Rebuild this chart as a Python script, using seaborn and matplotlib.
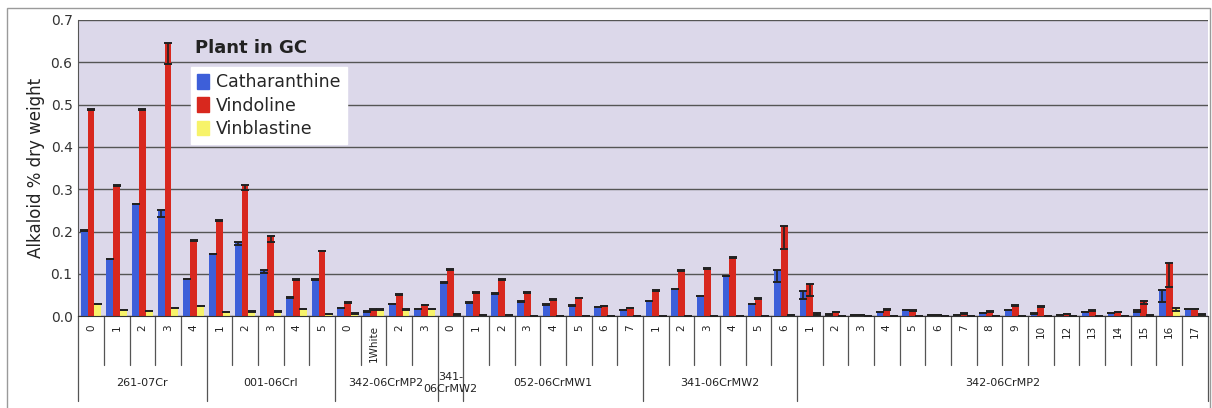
import numpy as np
import pandas as pd
import seaborn as sns
import matplotlib.pyplot as plt
from matplotlib.patches import Rectangle
import matplotlib.transforms as mtransforms

# sample groups and the plant numbers inside each group
groups = ["261-07Cr", "001-06CrI", "342-06CrMP2", "341-\n06CrMW2",
          "052-06CrMW1", "341-06CrMW2", "342-06CrMP2"]
group_labels = [
    ["0", "1", "2", "3", "4"],
    ["1", "2", "3", "4", "5"],
    ["0", "1White", "2", "3"],
    ["0"],
    ["1", "2", "3", "4", "5", "6", "7"],
    ["1", "2", "3", "4", "5", "6"],
    ["1", "2", "3", "4", "5", "6", "7", "8", "9", "10", "12", "13", "14", "15", "16", "17"],
]

catharanthine = [0.203, 0.135, 0.265, 0.250, 0.088,
                 0.148, 0.175, 0.110, 0.045, 0.088,
                 0.020, 0.012, 0.030, 0.018,
                 0.080,
                 0.033, 0.054, 0.035, 0.028, 0.026, 0.022, 0.015,
                 0.036, 0.065, 0.048, 0.096, 0.030, 0.110,
                 0.059, 0.005, 0.002, 0.010, 0.015, 0.002, 0.004, 0.008,
                 0.015, 0.007, 0.004, 0.010, 0.008, 0.014, 0.063, 0.018]
vindoline = [0.490, 0.310, 0.490, 0.645, 0.180,
             0.228, 0.310, 0.190, 0.088, 0.155,
             0.033, 0.016, 0.052, 0.027,
             0.112,
             0.057, 0.088, 0.058, 0.040, 0.044, 0.024, 0.020,
             0.062, 0.110, 0.115, 0.140, 0.043, 0.213,
             0.076, 0.010, 0.003, 0.016, 0.014, 0.003, 0.007, 0.013,
             0.027, 0.024, 0.006, 0.015, 0.011, 0.035, 0.126, 0.018]
vinblastine = [0.030, 0.015, 0.013, 0.020, 0.025,
               0.010, 0.012, 0.012, 0.018, 0.006,
               0.008, 0.016, 0.016, 0.017,
               0.005,
               0.002, 0.002, 0.001, 0.001, 0.001, 0.001, 0.001,
               0.001, 0.001, 0.001, 0.001, 0.001, 0.003,
               0.008, 0.001, 0.000, 0.001, 0.001, 0.000, 0.001, 0.001,
               0.001, 0.001, 0.001, 0.001, 0.001, 0.002, 0.020, 0.006]

# standard errors, drawn downwards from the top of each bar
cath_err = [0.001, 0.001, 0.001, 0.015, 0.001,
            0.001, 0.006, 0.008, 0.002, 0.002,
            0.001, 0.001, 0.001, 0.001,
            0.002,
            0.002, 0.001, 0.001, 0.001, 0.001, 0.001, 0.001,
            0.001, 0.001, 0.001, 0.001, 0.001, 0.029,
            0.019, 0.001, 0.000, 0.001, 0.001, 0.000, 0.001, 0.001,
            0.001, 0.001, 0.000, 0.001, 0.001, 0.003, 0.030, 0.001]
vind_err = [0.002, 0.002, 0.002, 0.050, 0.002,
            0.003, 0.012, 0.015, 0.003, 0.002,
            0.002, 0.001, 0.002, 0.001,
            0.002,
            0.003, 0.002, 0.002, 0.002, 0.002, 0.001, 0.001,
            0.002, 0.003, 0.003, 0.002, 0.002, 0.055,
            0.029, 0.001, 0.000, 0.001, 0.001, 0.000, 0.001, 0.002,
            0.002, 0.002, 0.001, 0.002, 0.001, 0.006, 0.057, 0.001]
vinb_err = [0.001, 0.001, 0.001, 0.001, 0.001,
            0.001, 0.001, 0.001, 0.001, 0.001,
            0.002, 0.001, 0.001, 0.001,
            0.001,
            0.000, 0.000, 0.000, 0.000, 0.000, 0.000, 0.000,
            0.000, 0.000, 0.000, 0.000, 0.000, 0.001,
            0.004, 0.000, 0.000, 0.000, 0.000, 0.000, 0.000, 0.000,
            0.000, 0.000, 0.000, 0.000, 0.000, 0.001, 0.008, 0.002]

series = ["Catharanthine", "Vindoline", "Vinblastine"]
colors = ["#3d5fd9", "#d8281e", "#f7f36a"]

tick_labels = [lab for g in group_labels for lab in g]
n = len(tick_labels)
keys = [f"c{i}" for i in range(n)]

df = pd.concat([
    pd.DataFrame({"key": keys, "value": catharanthine, "err": cath_err, "alkaloid": series[0]}),
    pd.DataFrame({"key": keys, "value": vindoline, "err": vind_err, "alkaloid": series[1]}),
    pd.DataFrame({"key": keys, "value": vinblastine, "err": vinb_err, "alkaloid": series[2]}),
])

sns.set_style("white")
plt.rcParams["font.family"] = ["DejaVu Sans"]

fig = plt.figure(figsize=(12.12, 4.08), dpi=100)
ax = fig.add_axes([0.0645, 0.225, 0.932, 0.726])
ax.set_facecolor("#dcd8ea")

sns.barplot(data=df, x="key", y="value", hue="alkaloid", order=keys,
            hue_order=series, palette=colors, errorbar=None, width=0.8,
            saturation=1, edgecolor="none", ax=ax)

# one-sided error bars hanging from the bar tops
for container, name in zip(ax.containers, series):
    sub = df[df["alkaloid"] == name]
    xs = [p.get_x() + p.get_width() / 2 for p in container.patches]
    err = sub["err"].values
    ax.errorbar(xs, sub["value"].values, yerr=[err, np.zeros_like(err)], fmt="none",
                ecolor="#222222", elinewidth=1.2, capsize=2.8, capthick=1.4, zorder=3)

ax.set_ylim(0, 0.7)
ax.set_xlim(-0.5, n - 0.5)
ax.set_yticks(np.arange(0, 0.71, 0.1))
ax.set_yticklabels([f"{v:.1f}" for v in np.arange(0, 0.71, 0.1)], fontsize=10, color="#333333")
ax.yaxis.grid(True, color="#555555", linewidth=1)
ax.set_axisbelow(True)
ax.set_ylabel("Alkaloid % dry weight", fontsize=12, color="#222222")
ax.set_xlabel("")
ax.set_xticks(range(n))
ax.set_xticklabels(tick_labels, rotation=90, fontsize=7.5, color="#222222")
ax.tick_params(axis="x", length=0, pad=6)
ax.tick_params(axis="y", length=0, pad=4)
for side in ["top", "right"]:
    ax.spines[side].set_visible(False)
ax.spines["left"].set_color("#555555")
ax.spines["bottom"].set_color("#333333")

# two-level category axis: separators and group names
trans = mtransforms.blended_transform_factory(ax.transData, ax.transAxes)
bounds = np.cumsum([0] + [len(g) for g in group_labels])
for i in range(n + 1):
    bottom = -0.285 if i in bounds else -0.165
    ax.plot([i - 0.5, i - 0.5], [0, bottom], transform=trans, color="#555555",
            linewidth=0.9, clip_on=False)
for name, start, stop in zip(groups, bounds[:-1], bounds[1:]):
    center = (start + stop - 1) / 2
    ax.text(center, -0.225, name, transform=trans, ha="center", va="center",
            fontsize=8, color="#222222")

# legend with title above a white box
handles = [Rectangle((0, 0), 1, 1, color=c) for c in colors]
leg = ax.legend(handles, series, loc="upper left", bbox_to_anchor=(0.1, 0.84),
                frameon=True, fontsize=12.5, handlelength=0.7, handleheight=0.9,
                handletextpad=0.4, labelspacing=0.3, borderpad=0.35, borderaxespad=0)
leg.get_frame().set_facecolor("white")
leg.get_frame().set_edgecolor("white")
leg.get_frame().set_boxstyle("square", pad=0)
leg.get_frame().set_alpha(1)
ax.text(0.103, 0.905, "Plant in GC", transform=ax.transAxes, fontsize=13,
        fontweight="semibold", color="#222222", va="center")

# chart area border
fig.patches.append(Rectangle((0.006, -0.01), 0.992, 0.99, transform=fig.transFigure,
                             fill=False, edgecolor="#9a9a9a", linewidth=1))

fig.savefig("out.png", dpi=100, facecolor="white")
